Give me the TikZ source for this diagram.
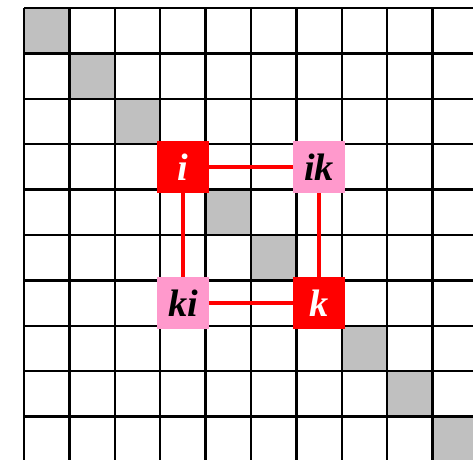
\documentclass[tikz,border=0pt]{standalone}
\usepackage{fontspec}
\setmainfont{Liberation Serif}
\definecolor{cellgray}{RGB}{192,192,192}
\definecolor{hotred}{RGB}{255,0,0}
\definecolor{softpink}{RGB}{255,153,204}
\tikzset{
  entry/.style={minimum size=1.15cm,inner sep=0pt,font=\fontsize{24}{24}\selectfont\bfseries\itshape},
  pivot/.style={entry,fill=hotred,text=white},
  mirror/.style={entry,fill=softpink,text=black},
  link/.style={hotred,line width=2.4pt}
}
\begin{document}
\begin{tikzpicture}
\useasboundingbox (-0.529,0.176) rectangle (9.89,-9.956);
\clip (-0.529,0.176) rectangle (9.89,-9.956);
% diagonal cells
\foreach \r in {0,...,9}
  \fill[cellgray] (\r,-\r) rectangle (\r+1,-\r-1);
% grid
\draw[line width=1.4pt] (0,-10) grid (10,0);
% the four entries
\node[pivot]  (i)  at (3.5,-3.5) {i};
\node[mirror] (ik) at (6.5,-3.5) {ik};
\node[pivot]  (k)  at (6.5,-6.5) {k};
\node[mirror] (ki) at (3.5,-6.5) {ki};
\draw[link] (i) -- (ik);
\draw[link] (ik) -- (k);
\draw[link] (k) -- (ki);
\draw[link] (ki) -- (i);
\end{tikzpicture}
\end{document}
